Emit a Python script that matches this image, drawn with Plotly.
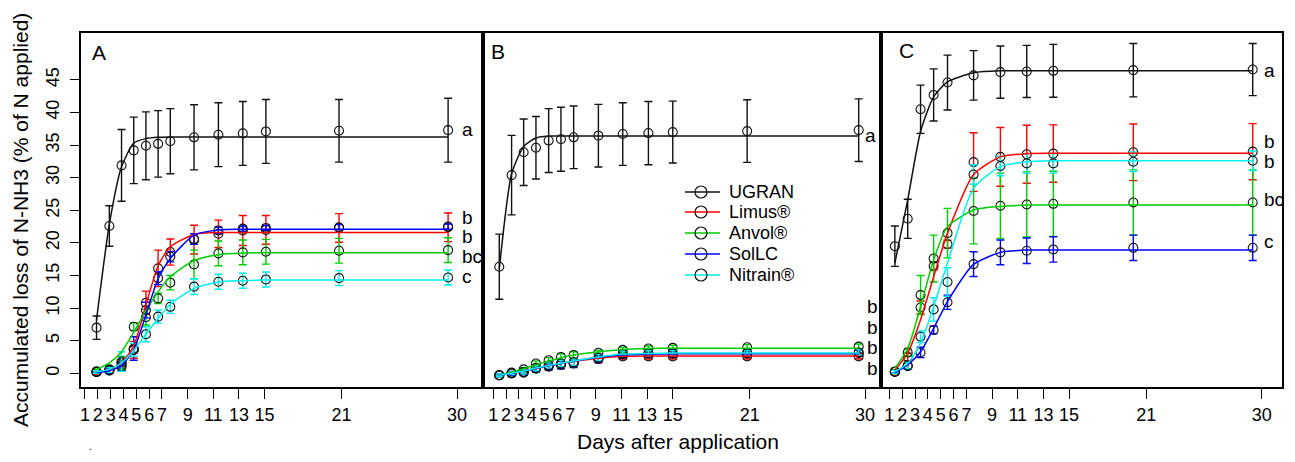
import plotly.graph_objects as go

FONT = "Liberation Sans, Arial, sans-serif"

# ---------------- data ----------------
series_names = ["UGRAN", "Limus®", "Anvol®", "SolLC", "Nitrain®"]
series_colors = ["#111111", "#ff0000", "#00cd00", "#0000ff", "#00f0f0"]

tick_vals = [1, 2, 3, 4, 5, 6, 7, 9, 11, 13, 15, 21, 30]
tick_text = ["1", "2", "3", "4", "5", "6", "7", "9", "11", "13", "15", "21", "30"]
y_tick_vals = [0, 5, 10, 15, 20, 25, 30, 35, 40, 45]

# Panel A
days_A = [1.9, 2.9, 3.85, 4.8, 5.75, 6.7, 7.65, 9.5, 11.4, 13.3, 15.1, 20.8, 29.3]
A_UGRAN = [7.0, 22.6, 31.9, 34.2, 34.9, 35.2, 35.6, 36.2, 36.6, 36.8, 37.1, 37.2, 37.3]
A_UGRAN_err = [1.8, 3.1, 5.5, 5.1, 5.2, 5.1, 5.0, 5.0, 4.9, 4.9, 4.9, 4.8, 4.9]
A_UGRAN_fit = [8.2, 22.9, 31.7, 35.3, 36.0, 36.2, 36.25, 36.25, 36.25, 36.25, 36.25, 36.25, 36.25]
A_Limus = [0.2, 0.5, 1.3, 3.6, 10.8, 16.1, 18.6, 20.5, 21.4, 21.9, 22.0, 22.3, 22.4]
A_Limus_err = [0.3, 0.5, 0.8, 1.3, 1.8, 2.8, 2.0, 2.2, 2.1, 2.3, 2.2, 2.2, 2.2]
A_Limus_fit = [0.2, 0.6, 1.6, 4.2, 10.5, 16.5, 19.4, 21.3, 21.6, 21.6, 21.6, 21.6, 21.6]
A_Anvol = [0.3, 0.6, 1.6, 7.15, 8.6, 11.5, 13.9, 16.7, 18.4, 18.55, 18.65, 18.8, 18.9]
A_Anvol_err = [0.3, 0.5, 1.0, 0.6, 1.2, 0.8, 1.1, 2.2, 1.9, 1.9, 1.9, 1.9, 1.9]
A_Anvol_fit = [0.6, 1.6, 3.3, 6.3, 9.6, 12.5, 14.8, 17.3, 18.2, 18.45, 18.5, 18.5, 18.5]
A_SolLC = [0.2, 0.4, 1.0, 3.8, 9.7, 14.6, 17.9, 20.6, 21.9, 22.2, 22.3, 22.4, 22.5]
A_SolLC_err = [0.2, 0.4, 0.6, 1.8, 1.2, 1.0, 0.8, 0.8, 0.5, 0.4, 0.4, 0.4, 0.4]
A_SolLC_fit = [0.1, 0.4, 1.2, 3.6, 9.0, 14.5, 17.6, 21.2, 22.0, 22.1, 22.1, 22.1, 22.1]
A_Nitrain = [0.2, 0.5, 1.8, 3.6, 6.0, 8.7, 10.2, 13.3, 14.05, 14.2, 14.4, 14.6, 14.7]
A_Nitrain_err = [0.2, 0.4, 1.5, 1.0, 1.15, 1.0, 1.0, 1.2, 1.15, 1.15, 1.15, 1.15, 1.15]
A_Nitrain_fit = [0.2, 0.6, 1.6, 3.5, 6.0, 8.4, 10.6, 13.0, 14.0, 14.2, 14.3, 14.3, 14.3]

# Panel B
days_B = [1.47, 2.43, 3.37, 4.33, 5.32, 6.28, 7.27, 9.2, 11.1, 13.1, 15.0, 20.8, 29.5]
B_UGRAN = [16.35, 30.4, 33.9, 34.6, 35.7, 35.9, 36.2, 36.45, 36.7, 36.85, 37.0, 37.15, 37.3]
B_UGRAN_err = [5.0, 6.1, 5.1, 4.8, 4.9, 4.9, 4.8, 4.8, 4.8, 4.85, 4.75, 4.8, 4.8]
B_UGRAN_fit = [16.0, 30.6, 34.8, 36.1, 36.4, 36.4, 36.4, 36.4, 36.4, 36.4, 36.4, 36.4, 36.4]
B_Limus = [-0.3, 0.0, 0.2, 0.8, 1.1, 1.4, 1.6, 2.2, 2.6, 2.6, 2.6, 2.6, 2.6]
B_Limus_err = [0.2, 0.2, 0.3, 0.4, 0.4, 0.5, 0.5, 0.5, 0.4, 0.4, 0.4, 0.4, 0.4]
B_Limus_fit = [-0.3, 0.0, 0.35, 0.75, 1.15, 1.5, 1.8, 2.3, 2.6, 2.65, 2.65, 2.65, 2.65]
B_Anvol = [-0.3, 0.1, 0.6, 1.5, 2.0, 2.5, 2.8, 3.15, 3.6, 3.8, 3.9, 4.0, 4.1]
B_Anvol_err = [0.2, 0.2, 0.3, 0.4, 0.4, 0.5, 0.5, 0.4, 0.4, 0.4, 0.4, 0.4, 0.4]
B_Anvol_fit = [-0.3, 0.15, 0.7, 1.3, 1.9, 2.4, 2.8, 3.3, 3.65, 3.8, 3.85, 3.85, 3.85]
B_SolLC = [-0.3, 0.0, 0.1, 0.7, 1.0, 1.3, 1.5, 2.2, 2.9, 3.0, 3.0, 3.05, 3.1]
B_SolLC_err = [0.2, 0.3, 0.3, 0.5, 0.5, 0.6, 0.6, 0.6, 0.5, 0.5, 0.5, 0.5, 0.5]
B_SolLC_fit = [-0.3, 0.0, 0.35, 0.75, 1.15, 1.5, 1.85, 2.45, 2.85, 2.95, 3.0, 3.0, 3.0]
B_Nitrain = [-0.3, 0.0, 0.2, 0.8, 1.2, 1.5, 1.7, 2.4, 3.0, 3.1, 3.1, 3.1, 3.2]
B_Nitrain_err = [0.2, 0.2, 0.3, 0.4, 0.4, 0.5, 0.5, 0.5, 0.4, 0.4, 0.4, 0.4, 0.4]
B_Nitrain_fit = [-0.3, 0.0, 0.35, 0.8, 1.2, 1.55, 1.9, 2.5, 2.95, 3.05, 3.1, 3.1, 3.1]

# Panel C
days_C = [1.43, 2.43, 3.43, 4.45, 5.53, 7.56, 9.65, 11.7, 13.77, 20.0, 29.3]
C_UGRAN = [19.5, 23.7, 40.5, 42.7, 44.6, 45.7, 46.2, 46.3, 46.4, 46.5, 46.6]
C_UGRAN_err = [3.1, 3.0, 3.7, 4.0, 4.2, 3.8, 4.0, 4.0, 4.05, 4.1, 4.0]
C_UGRAN_fit = [16.9, 26.6, 37.1, 42.4, 44.7, 46.1, 46.4, 46.4, 46.4, 46.4, 46.4]
C_Limus = [0.25, 2.5, 10.1, 16.45, 19.8, 32.4, 33.2, 33.6, 33.7, 33.9, 34.0]
C_Limus_err = [0.3, 0.6, 1.0, 0.6, 0.6, 4.5, 4.5, 4.45, 4.4, 4.35, 4.3]
C_Limus_fit = [0.5, 3.1, 8.2, 14.8, 21.5, 30.5, 33.2, 33.7, 33.75, 33.75, 33.75]
C_Anvol = [0.25, 3.2, 12.0, 17.6, 21.5, 24.9, 25.7, 25.9, 26.0, 26.2, 26.2]
C_Anvol_err = [0.3, 0.6, 3.0, 3.6, 3.8, 5.05, 5.0, 5.0, 5.0, 5.0, 5.0]
C_Anvol_fit = [0.75, 3.8, 10.2, 17.4, 22.5, 25.05, 25.6, 25.8, 25.8, 25.8, 25.8]
C_SolLC = [0.25, 1.1, 3.2, 6.65, 10.9, 16.75, 18.55, 18.8, 19.0, 19.25, 19.25]
C_SolLC_err = [0.2, 0.5, 0.8, 0.6, 1.1, 1.9, 1.9, 1.95, 1.95, 1.95, 1.95]
C_SolLC_fit = [0.1, 1.3, 3.3, 6.9, 11.0, 16.7, 18.55, 18.9, 18.9, 18.9, 18.9]
C_Nitrain = [0.25, 1.2, 5.6, 9.8, 14.0, 30.5, 31.8, 32.2, 32.2, 32.45, 32.6]
C_Nitrain_err = [0.2, 0.5, 0.9, 1.8, 2.2, 1.5, 1.5, 1.5, 1.5, 1.5, 1.5]
C_Nitrain_fit = [0.25, 1.5, 4.6, 10.2, 16.9, 28.4, 31.7, 32.45, 32.6, 32.6, 32.6]

# significance letters (x, y, text)
letters_A = [(30.2, 37.4, "a"), (30.2, 23.9, "b"), (30.2, 20.95, "b"), (30.2, 17.9, "bc"), (30.2, 14.9, "c")]
letters_B = [(29.86, 36.5, "a"), (30.0, 10.2, "b"), (30.0, 7.1, "b"), (30.0, 3.9, "b"), (30.0, 0.8, "b")]
letters_C = [(30.0, 46.5, "a"), (30.0, 35.5, "b"), (30.0, 32.5, "b"), (30.0, 26.6, "bc"), (30.0, 20.2, "c")]

panels = [
    ("x", "y", days_A,
     [(A_UGRAN, A_UGRAN_err, A_UGRAN_fit), (A_Limus, A_Limus_err, A_Limus_fit),
      (A_Anvol, A_Anvol_err, A_Anvol_fit), (A_SolLC, A_SolLC_err, A_SolLC_fit),
      (A_Nitrain, A_Nitrain_err, A_Nitrain_fit)], letters_A),
    ("x2", "y2", days_B,
     [(B_UGRAN, B_UGRAN_err, B_UGRAN_fit), (B_Limus, B_Limus_err, B_Limus_fit),
      (B_Anvol, B_Anvol_err, B_Anvol_fit), (B_SolLC, B_SolLC_err, B_SolLC_fit),
      (B_Nitrain, B_Nitrain_err, B_Nitrain_fit)], letters_B),
    ("x3", "y3", days_C,
     [(C_UGRAN, C_UGRAN_err, C_UGRAN_fit), (C_Limus, C_Limus_err, C_Limus_fit),
      (C_Anvol, C_Anvol_err, C_Anvol_fit), (C_SolLC, C_SolLC_err, C_SolLC_fit),
      (C_Nitrain, C_Nitrain_err, C_Nitrain_fit)], letters_C),
]

# page has an 8px body margin: the figure is drawn 8px in from the window corner
OFF = 8
W, H = 1295 - 2 * OFF, 462 - 2 * OFF

def px_x(p):
    return (p - OFF) / W

def px_y(p):
    return 1 - (p - OFF) / H

fig = go.Figure()

annotations = []
for xa, ya, days, sers, letters in panels:
    for (vals, errs, fit), color in zip(sers, series_colors):
        fig.add_trace(go.Scatter(
            x=days, y=vals, mode="markers", xaxis=xa, yaxis=ya, showlegend=False,
            marker=dict(symbol="circle-open", size=9, color="#111111", line=dict(width=1.1)),
            error_y=dict(type="data", array=errs, visible=True, color=color,
                         thickness=1.4, width=4),
            cliponaxis=False,
        ))
    for (vals, errs, fit), color in zip(sers, series_colors):
        fig.add_trace(go.Scatter(
            x=days, y=fit, mode="lines", xaxis=xa, yaxis=ya, showlegend=False,
            line=dict(color=color, width=1.5, shape="spline", smoothing=0.6),
            hoverinfo="skip",
        ))
    for lx, ly, lt in letters:
        annotations.append(dict(x=lx, y=ly, xref=xa, yref=ya, text=lt, showarrow=False,
                                xanchor="left", yanchor="middle",
                                font=dict(size=19, family=FONT, color="black")))

# legend drawn inside panel B (line + open circle + name)
legend_rows_px = [192, 212, 233, 254, 275]
shapes = []
for name, color, ypx in zip(series_names, series_colors, legend_rows_px):
    shapes.append(dict(type="line", xref="paper", yref="paper",
                       x0=px_x(685), x1=px_x(720), y0=px_y(ypx), y1=px_y(ypx),
                       line=dict(color=color, width=1.5)))
    shapes.append(dict(type="circle", xref="paper", yref="paper",
                       xsizemode="pixel", ysizemode="pixel",
                       xanchor=px_x(701), yanchor=px_y(ypx),
                       x0=-6, x1=6, y0=-6, y1=6,
                       line=dict(color="#111111", width=1.2)))
    annotations.append(dict(x=px_x(727), y=px_y(ypx), xref="paper", yref="paper",
                            text=name, showarrow=False, xanchor="left", yanchor="middle",
                            font=dict(size=18, family=FONT, color="black")))

y_top, y_bot = px_y(33), px_y(387)
doms = [(px_x(81), px_x(483)), (px_x(483), px_x(881)), (px_x(881), px_x(1282))]
xranges = [[0.69, 32.02], [0.2, 31.24], [0.35, 31.58]]
yrange = [-2.1, 52.2]

xcommon = dict(tickvals=tick_vals, ticktext=tick_text, ticks="outside", ticklen=10,
               tickwidth=1.3, tickcolor="black", showline=True, linecolor="black",
               linewidth=2, mirror=True, showgrid=False, zeroline=False, tickangle=0,
               tickfont=dict(size=18, family=FONT, color="black"))

layout = dict(
    width=W, height=H, margin=dict(l=0, r=0, t=0, b=0),
    paper_bgcolor="white", plot_bgcolor="white",
    showlegend=False,
)
for i, (xa, ya) in enumerate([("xaxis", "yaxis"), ("xaxis2", "yaxis2"), ("xaxis3", "yaxis3")]):
    suffix = "" if i == 0 else str(i + 1)
    layout[xa] = dict(xcommon, domain=list(doms[i]), range=xranges[i], anchor="y" + suffix)
    ydict = dict(domain=[y_bot, y_top], range=yrange, anchor="x" + suffix, showline=True,
                 linecolor="black", linewidth=2, mirror=True, showgrid=False, zeroline=False)
    if i == 0:
        ydict.update(tickvals=y_tick_vals, ticks="outside", ticklen=9, tickwidth=1.3,
                     tickcolor="black", tickangle=-90, ticklabelstandoff=4,
                     tickfont=dict(size=18, family=FONT, color="black"))
    else:
        ydict.update(showticklabels=False, ticks="")
    layout[ya] = ydict

annotations += [
    dict(x=px_x(90), y=px_y(53), xref="paper", yref="paper", text="A", showarrow=False,
         xanchor="left", yanchor="middle", font=dict(size=21, family=FONT, color="black")),
    dict(x=px_x(489), y=px_y(52), xref="paper", yref="paper", text="B", showarrow=False,
         xanchor="left", yanchor="middle", font=dict(size=21, family=FONT, color="black")),
    dict(x=px_x(897), y=px_y(50), xref="paper", yref="paper", text="C", showarrow=False,
         xanchor="left", yanchor="middle", font=dict(size=21, family=FONT, color="black")),
    dict(x=px_x(20), y=px_y(220), xref="paper", yref="paper",
         text="Accumulated loss of N-NH3 (% of N applied)", showarrow=False, textangle=-90,
         xanchor="center", yanchor="middle", font=dict(size=21, family=FONT, color="black")),
    dict(x=px_x(678), y=px_y(441), xref="paper", yref="paper", text="Days after application",
         showarrow=False, xanchor="center", yanchor="middle",
         font=dict(size=21, family=FONT, color="black")),
    dict(x=px_x(90), y=px_y(446), xref="paper", yref="paper", text=".", showarrow=False,
         xanchor="center", yanchor="middle", font=dict(size=10, family=FONT, color="black")),
]
layout["annotations"] = annotations
layout["shapes"] = shapes
fig.update_layout(**layout)

fig.write_html("out.html")
